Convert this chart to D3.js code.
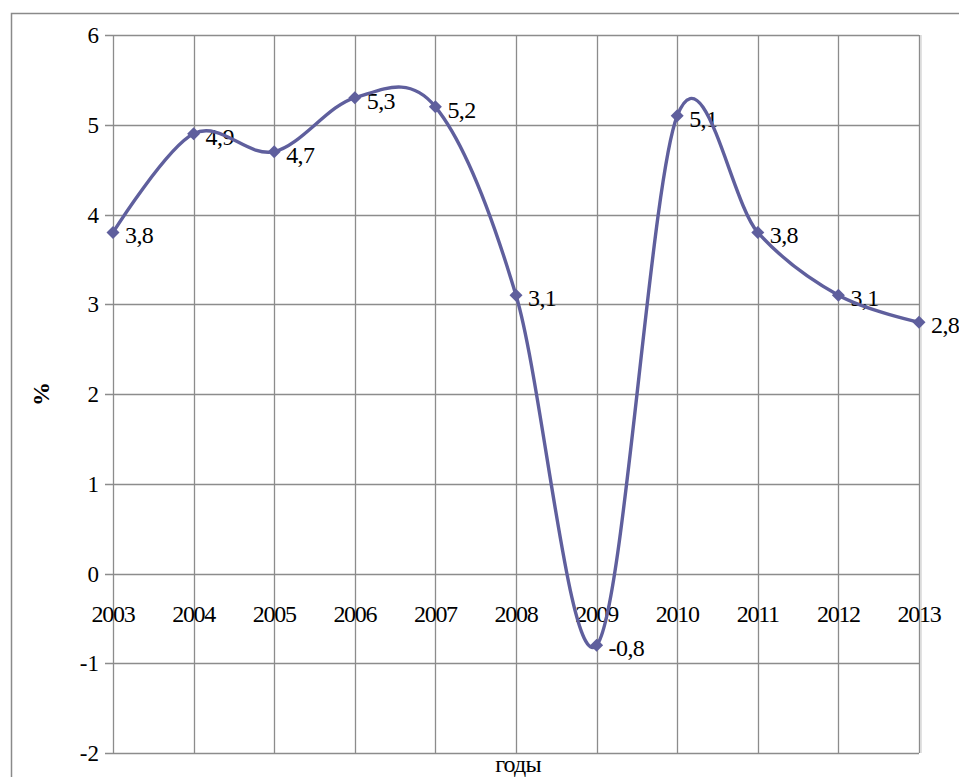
<!DOCTYPE html>
<html><head><meta charset="utf-8">
<script src="https://cdn.jsdelivr.net/npm/d3@7"></script>
</head>
<body style="margin:0;overflow:hidden">
<svg id="chart" width="959" height="777"></svg>
<script>
const years = [2003,2004,2005,2006,2007,2008,2009,2010,2011,2012,2013];
const values = [3.8,4.9,4.7,5.3,5.2,3.1,-0.8,5.1,3.8,3.1,2.8];
const labels = ["3,8","4,9","4,7","5,3","5,2","3,1","-0,8","5,1","3,8","3,1","2,8"];
const yTicks = [-2,-1,0,1,2,3,4,5,6];
const xTitle = "годы";
const yTitle = "%";

(function(){
const svg = d3.select("#chart").style("display","block");
const pL = 113, pR = 919, pT = 35, pB = 753;
const x = d3.scaleLinear().domain([2003,2013]).range([pL,pR]);
const y = d3.scaleLinear().domain([-2,6]).range([pB,pT]);
const grid = "#8c8c8c";

// outer chart border
svg.append("rect").attr("x",11.5).attr("y",13.5).attr("width",1000).attr("height",1000)
  .attr("fill","none").attr("stroke","#8a8a8a").attr("stroke-width",1.5);

// horizontal grid + tick marks
svg.append("g").selectAll("line").data(yTicks).join("line")
  .attr("x1",pL-8).attr("x2",pR)
  .attr("y1",d=>Math.round(y(d))+0.5).attr("y2",d=>Math.round(y(d))+0.5)
  .attr("stroke",grid).attr("stroke-width",1.3);
// vertical grid
svg.append("g").selectAll("line").data(years).join("line")
  .attr("x1",d=>Math.round(x(d))+0.5).attr("x2",d=>Math.round(x(d))+0.5)
  .attr("y1",pT).attr("y2",pB)
  .attr("stroke",grid).attr("stroke-width",1.3);
// light shadow on right edge
svg.append("line").attr("x1",pR+2).attr("x2",pR+2).attr("y1",pT).attr("y2",pB)
  .attr("stroke","#cfcfcf").attr("stroke-width",1.2);

// y tick labels
svg.selectAll("text.yt").data(yTicks).join("text").attr("class","yt")
  .attr("x",99).attr("y",d=>y(d)+8)
  .attr("text-anchor","end").attr("font-size",23)
  .style("font-family",d=>`"Liberation Serif", monospace`)
  .text(d=>d);

// x tick labels (at the zero line)
svg.selectAll("text.xt").data(years).join("text").attr("class","xt")
  .attr("x",d=>x(d)).attr("y",y(0)+48)
  .attr("text-anchor","middle").attr("font-size",24).attr("letter-spacing",-1.3)
  .style("font-family",d=>`"Liberation Serif", monospace`)
  .text(d=>d);

// axis titles
svg.append("text").attr("x",(pL+pR)/2+2).attr("y",772)
  .attr("text-anchor","middle").attr("font-size",24).attr("letter-spacing",-0.8)
  .style("font-family",`"Liberation Serif", monospace`)
  .text(xTitle);
svg.append("text").attr("transform",`translate(49,${(pT+pB)/2}) rotate(-90)`)
  .attr("text-anchor","middle").attr("font-size",24).attr("font-weight","bold")
  .style("font-family",`"Liberation Serif", monospace`)
  .text(yTitle);

// data labels
const pts = years.map((yr,i)=>({yr,v:values[i],lab:labels[i]}));
svg.selectAll("text.dl").data(pts).join("text").attr("class","dl")
  .attr("x",d=>x(d.yr)+12).attr("y",d=>y(d.v)+11)
  .attr("font-size",24).attr("letter-spacing",-0.6)
  .style("font-family",d=>`"Liberation Serif", monospace`)
  .text(d=>d.lab);

// line
const lineColor = "#5f5f9d";
const line = d3.line().x(d=>x(d.yr)).y(d=>y(d.v)).curve(d3.curveCatmullRom.alpha(0));
svg.append("path").datum(pts).attr("d",line)
  .attr("fill","none").attr("stroke",lineColor).attr("stroke-width",3.4)
  .attr("stroke-linejoin","round");

// diamond markers
svg.append("g").selectAll("path").data(pts).join("path")
  .attr("transform",d=>`translate(${x(d.yr)},${y(d.v)})`)
  .attr("d","M0,-6.5L6.5,0L0,6.5L-6.5,0Z")
  .attr("fill",lineColor);
})();
</script>
</body></html>
